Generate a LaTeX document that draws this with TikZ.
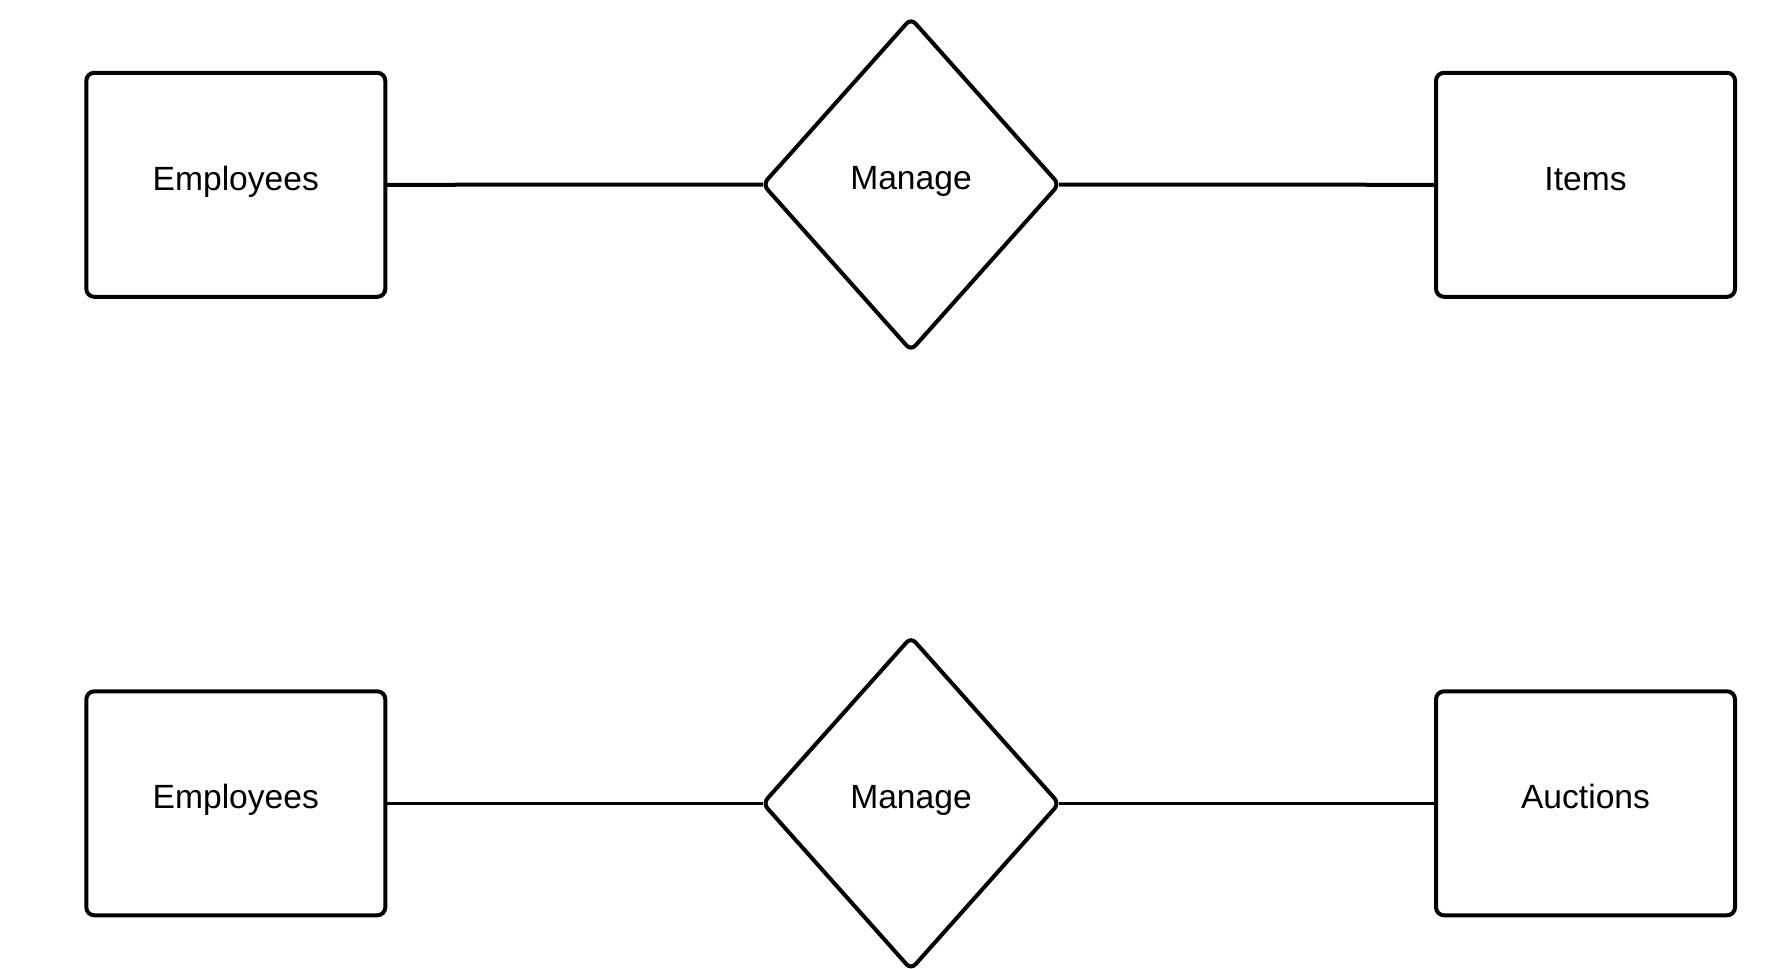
\documentclass[tikz,border=0pt]{standalone}
\usepackage{fontspec}
\setmainfont{Liberation Sans}
\usetikzlibrary{shapes.geometric}
\begin{document}
\begin{tikzpicture}[x=0.75pt,y=-0.75pt,
  entity/.style={draw=black,line width=3pt,rounded corners=6pt,fill=white,
    minimum width=224.25pt,minimum height=168pt,inner sep=0pt,outer sep=0pt,
    font=\fontsize{25.2}{30}\selectfont,text height=18.3pt,text depth=10.3pt},
  relation/.style={draw=black,line width=3pt,diamond,rounded corners=5pt,fill=white,
    minimum width=222pt,minimum height=249pt,inner sep=0pt,outer sep=0pt,
    font=\fontsize{25.2}{30}\selectfont,text height=18.3pt,text depth=10.3pt},
  linkthick/.style={draw=black,line width=3pt},
  linkthin/.style={draw=black,line width=2.25pt}]
\useasboundingbox (0,0) rectangle (1776,968);
\fill[white] (0,0) rectangle (1776,968);
% top row
\node[entity] (emp1) at (235.8,184.8) {Employees};
\node[relation] (man1) at (911,184.5) {Manage};
\node[entity] (items) at (1585.5,184.8) {Items};
% bottom row
\node[entity] (emp2) at (235.8,803.3) {Employees};
\node[relation] (man2) at (911,803.3) {Manage};
\node[entity] (auct) at (1585.5,803.3) {Auctions};
% connectors
\draw[linkthick] (emp1.east) -- (man1.west);
\draw[linkthick] (man1.east) -- (items.west);
\draw[linkthin] (emp2.east) -- (man2.west);
\draw[linkthin] (man2.east) -- (auct.west);
\end{tikzpicture}
\end{document}
